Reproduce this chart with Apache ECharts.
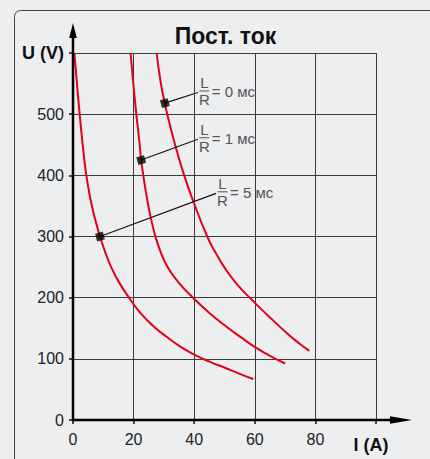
<!DOCTYPE html>
<html><head><meta charset="utf-8">
<script src="https://cdn.jsdelivr.net/npm/echarts@6/dist/echarts.min.js"></script>
<style>html,body{margin:0;padding:0;background:#edeef0}#c{width:430px;height:459px}</style>
</head><body><div id="c"></div>
<script>
const chartTitle = 'Пост. ток';
const xName = 'I (A)';
const yName = 'U (V)';
const xMin = 0, xMax = 100, xStep = 20;
const yMin = 0, yMax = 600, yStep = 100;
// L/R = 0 ms  [I, U]
const curve0 = [[27.6,600],[29.0,550],[30.3,518],[31.1,500],[33.7,450],[36.7,400],[39.9,355],[44.3,300],[46.9,275],[49.9,250],[53.6,225],[58.3,200],[64.5,170],[70.8,141],[74.7,125],[78.0,113]];
// L/R = 1 ms
const curve1 = [[19.0,600],[19.9,550],[20.9,500],[22.0,450],[22.5,425],[23.2,400],[24.5,360],[25.7,330],[27.2,300],[28.9,275],[31.2,250],[34.8,225],[39.6,200],[45.0,175],[50.8,152],[55.5,135],[60.1,119],[65.0,105],[70.0,92.4]];
// L/R = 5 ms
const curve5 = [[0.45,600],[1.3,550],[2.2,500],[3.2,450],[4.4,400],[5.8,360],[7.2,330],[8.9,300],[10.6,275],[12.6,250],[15.2,225],[18.5,200],[21.4,180],[24.3,164],[27.3,150],[30.9,136],[35.4,120],[40.0,107],[45.0,95.5],[50.3,85],[55.0,75.5],[59.5,67]];
const labelValues = ['0','1','5'];
const markerPts = [[30.3,518],[22.5,425],[8.9,300]];
const leaderEnds = [[41.2,535.5],[41.2,459],[47.2,370.6]];

const chart = echarts.init(document.getElementById('c'), null, {renderer:'svg'});
const red = '#e2001a';
const curveSeries = [curve0, curve1, curve5].map(d => ({
  type:'line', data:d, smooth:0.5, symbol:'none', silent:true, z:3,
  lineStyle:{color:red, width:2}
}));
const leaderSeries = markerPts.map((m,i) => ({
  type:'line', data:[m, leaderEnds[i]], symbol:'none', silent:true, z:4,
  lineStyle:{color:'#111', width:1.2}
}));
chart.setOption({
  backgroundColor:'#edeef0',
  animation:false,
  grid:{left:73, top:53, right:54, bottom:39},
  xAxis:{type:'value', min:xMin, max:xMax, interval:xStep,
    axisLine:{show:false},
    axisTick:{show:true, length:4, lineStyle:{color:'#111', width:1.5}},
    splitLine:{show:true, lineStyle:{color:'#3a3a3a', width:1}},
    axisLabel:{margin:11, fontSize:16, color:'#222', fontFamily:'Liberation Sans, Arial, sans-serif',
      formatter:v => v === xMax ? '{b|' + xName + '}' : String(v),
      rich:{b:{fontSize:18, fontWeight:'bold', color:'#111', padding:[5,10,0,0]}}}
  },
  yAxis:{type:'value', min:yMin, max:yMax, interval:yStep,
    axisLine:{show:false},
    axisTick:{show:true, length:4, lineStyle:{color:'#111', width:1.5}},
    splitLine:{show:true, lineStyle:{color:'#3a3a3a', width:1}},
    axisLabel:{margin:9, fontSize:16, color:'#222', fontFamily:'Liberation Sans, Arial, sans-serif',
      formatter:v => v === yMax ? '{b|' + yName + '}' : String(v),
      rich:{b:{fontSize:18, fontWeight:'bold', color:'#111'}}}
  },
  series: curveSeries.concat(leaderSeries).concat([{
    type:'scatter', data:markerPts, symbol:'rect', symbolSize:8, symbolRotate:15, z:5, silent:true,
    itemStyle:{color:'#000'}
  }])
});

const p00 = chart.convertToPixel('grid', [xMin, yMin]);
const pMax = chart.convertToPixel('grid', [xMax, yMax]);
const g = [];
g.push({type:'rect', shape:{x:14.5, y:10.5, width:440, height:470, r:6}, style:{fill:'none', stroke:'#444', lineWidth:1}, z:0});
g.push({type:'text', x:225.5, y:35.5, style:{text:chartTitle, align:'center', verticalAlign:'middle', fontSize:23, fontWeight:'bold', fill:'#111', fontFamily:'Liberation Sans, Arial, sans-serif'}, z:10});
const x0 = p00[0], y0 = p00[1];
const yTip = pMax[1] - 30, xTip = pMax[0] + 36;
g.push({type:'line', shape:{x1:x0, y1:y0+1, x2:x0, y2:yTip+12}, style:{stroke:'#000', lineWidth:2.5}, z:8});
g.push({type:'polygon', shape:{points:[[x0,yTip],[x0-3.8,yTip+15],[x0+3.8,yTip+15]]}, style:{fill:'#000'}, z:8});
g.push({type:'line', shape:{x1:x0-1, y1:y0, x2:xTip-18, y2:y0}, style:{stroke:'#000', lineWidth:2.5}, z:8});
g.push({type:'polygon', shape:{points:[[xTip,y0],[xTip-22,y0-3.8],[xTip-22,y0+3.8]]}, style:{fill:'#000'}, z:8});
leaderEnds.forEach((e,i) => {
  const p = chart.convertToPixel('grid', e);
  const by = p[1] - 1.5, fx = p[0] + 1.5;
  const font = {fontSize:15, fill:'#555', fontFamily:'Liberation Sans, Arial, sans-serif'};
  g.push({type:'text', x:fx+5, y:by-0.5, style:Object.assign({text:'L', align:'center', verticalAlign:'bottom'}, font), z:10});
  g.push({type:'line', shape:{x1:fx, y1:by, x2:fx+10, y2:by}, style:{stroke:'#555', lineWidth:1}, z:10});
  g.push({type:'text', x:fx+5, y:by+1.5, style:Object.assign({text:'R', align:'center', verticalAlign:'top'}, font), z:10});
  g.push({type:'text', x:fx+12.5, y:by+0.5, style:Object.assign({text:'= ' + labelValues[i] + ' мс', align:'left', verticalAlign:'middle'}, font), z:10});
});
chart.setOption({graphic:g});
</script></body></html>
